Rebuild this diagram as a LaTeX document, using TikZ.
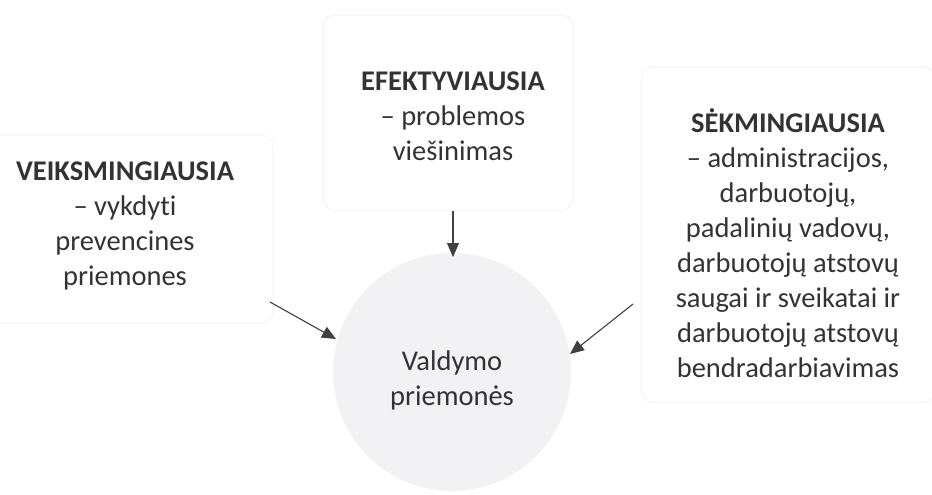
\documentclass[tikz,border=0pt]{standalone}
\usepackage{fontspec}
\setmainfont[Ligatures=NoCommon]{Carlito}
\usetikzlibrary{arrows.meta}
\definecolor{txt}{HTML}{333333}
\definecolor{circfill}{HTML}{F2F2F5}
\definecolor{boxline}{HTML}{F7F7F7}
\tikzset{
  boxtext/.style={align=center, text=txt, font=\fontsize{28.5}{35}\selectfont, inner sep=0pt},
  faintbox/.style={draw=boxline, line width=1.5pt, rounded corners=12pt},
  arr/.style={draw=black!75, line width=1.1pt, -{Triangle[length=14pt,width=12pt]}},
}
\begin{document}
\begin{tikzpicture}[x=1pt,y=-1pt]
\useasboundingbox (0,0) rectangle (932,495);
% faint boxes
\draw[faintbox] (-10,135) rectangle (273,323);
\draw[faintbox] (323,15) rectangle (573,210);
\draw[faintbox] (641,67) rectangle (935,402);
% circle
\node[circle, fill=circfill, minimum size=238pt, inner sep=0pt] (circ) at (452,372) {};
\node[boxtext] (ctext) at (452,380) {Valdymo\\priemonės};
% texts
\node[boxtext] (left) at (125,226) {\textbf{VEIKSMINGIAUSIA}\\– vykdyti\\prevencines\\priemones};
\node[boxtext] (top) at (453,116) {\textbf{EFEKTYVIAUSIA}\\– problemos\\viešinimas};
\node[boxtext] (right) at (788,243) {\textbf{SĖKMINGIAUSIA}\\– administracijos,\\darbuotojų,\\padalinių vadovų,\\darbuotojų atstovų\\saugai ir sveikatai ir\\darbuotojų atstovų\\bendradarbiavimas};
% arrow endpoints
\coordinate (t1) at (453,211);
\coordinate (t2) at (453,257);
\coordinate (l1) at (270,302);
\coordinate (l2) at (336,339);
\coordinate (r1) at (633,304);
\coordinate (r2) at (570,354);
\draw[arr] (t1) -- (t2);
\draw[arr] (l1) -- (l2);
\draw[arr] (r1) -- (r2);
\end{tikzpicture}
\end{document}
